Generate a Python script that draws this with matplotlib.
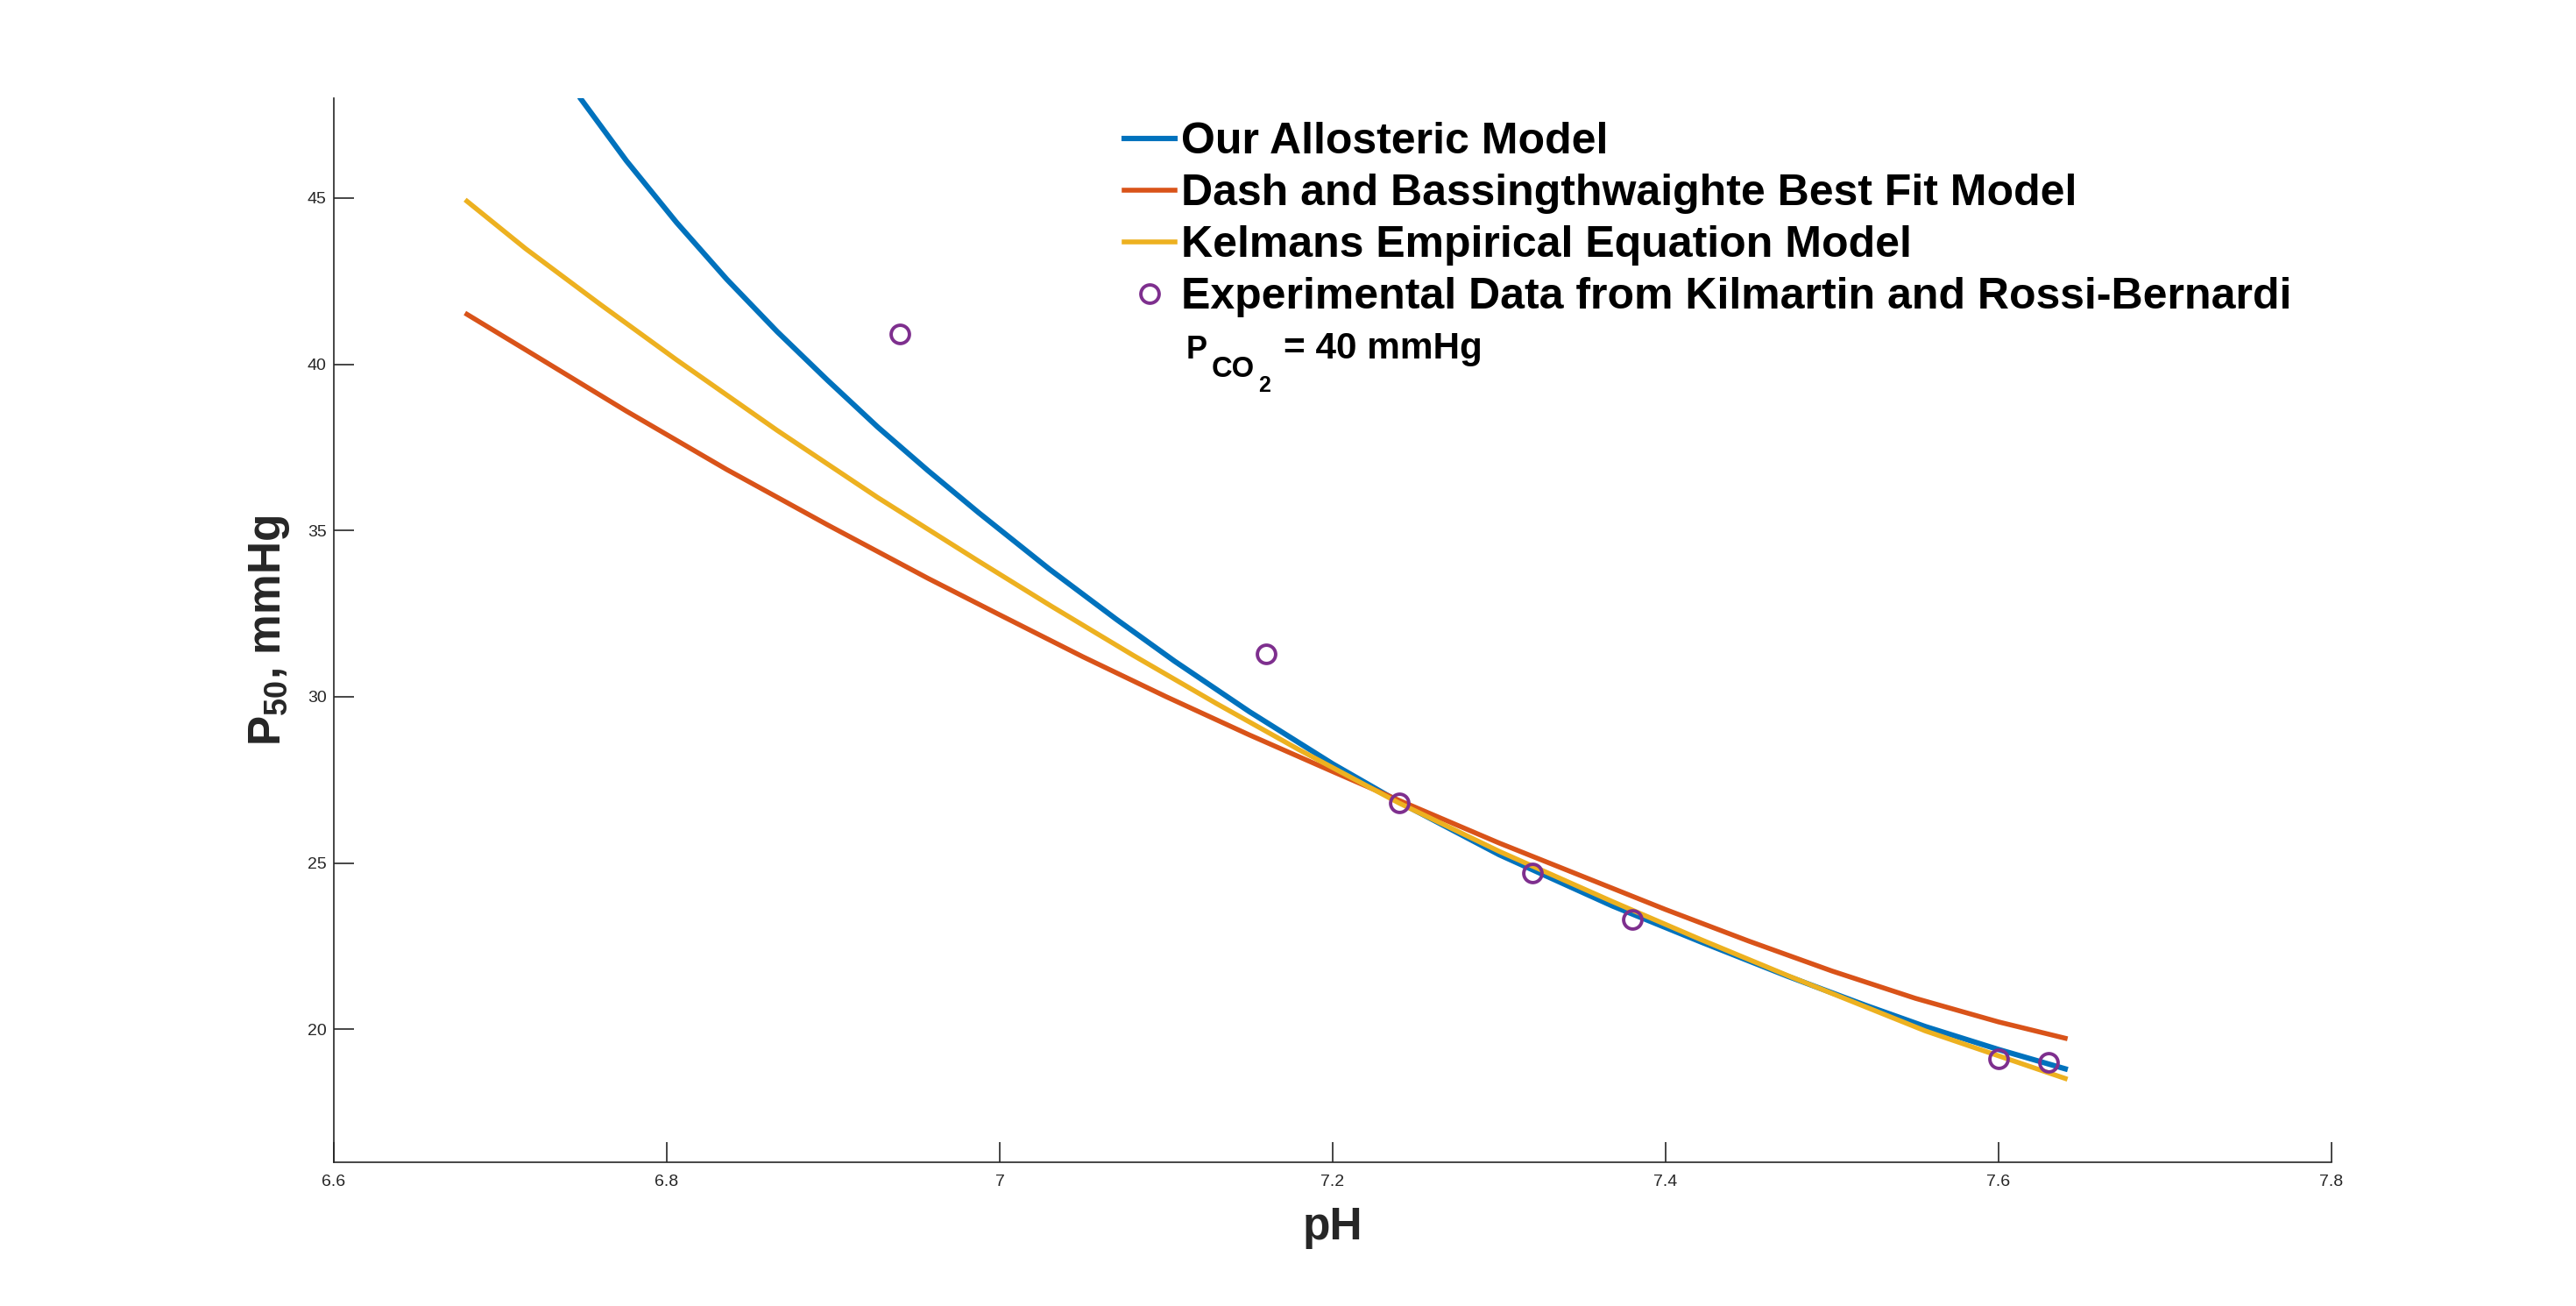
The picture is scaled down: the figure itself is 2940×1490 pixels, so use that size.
import matplotlib
matplotlib.use('Agg')
import matplotlib.pyplot as plt

plt.rcParams['font.family'] = ['Liberation Sans', 'DejaVu Sans']
plt.rcParams['mathtext.fontset'] = 'custom'
plt.rcParams['mathtext.rm'] = 'Liberation Sans:bold'
plt.rcParams['mathtext.it'] = 'Liberation Sans:bold'
plt.rcParams['mathtext.bf'] = 'Liberation Sans:bold'
plt.rcParams['mathtext.default'] = 'rm'

# values
ph_allo = [6.7485, 6.7757, 6.8059, 6.8361, 6.8663, 6.8965, 6.9267, 6.9569, 6.9872,
           7.03, 7.07, 7.105, 7.15, 7.20, 7.24, 7.30, 7.368, 7.421, 7.473, 7.52,
           7.556, 7.60, 7.64]
p50_allo = [47.97, 46.12, 44.26, 42.55, 40.98, 39.52, 38.11, 36.80, 35.54,
            33.83, 32.33, 31.07, 29.55, 27.98, 26.83, 25.25, 23.71, 22.63, 21.60, 20.72,
            20.08, 19.39, 18.81]

ph_dash = [6.68, 6.7153, 6.7757, 6.8361, 6.8965, 6.9569, 6.9993, 7.05, 7.10, 7.15,
           7.20, 7.24, 7.30, 7.35, 7.40, 7.45, 7.50, 7.55, 7.60, 7.64]
p50_dash = [41.5, 40.43, 38.59, 36.83, 35.17, 33.56, 32.48, 31.2, 30.0, 28.85,
            27.75, 26.88, 25.6, 24.6, 23.6, 22.65, 21.75, 20.93, 20.22, 19.73]

ph_kel = [6.68, 6.7153, 6.76, 6.8059, 6.8663, 6.9267, 6.9872, 7.0311, 7.08, 7.13,
          7.18, 7.24, 7.30, 7.368, 7.421, 7.473, 7.556, 7.60, 7.64]
p50_kel = [44.9, 43.47, 41.8, 40.13, 38.01, 35.99, 34.08, 32.72, 31.25, 29.8,
           28.4, 26.8, 25.35, 23.84, 22.70, 21.62, 19.95, 19.2, 18.52]

ph_exp = [6.94, 7.16, 7.24, 7.32, 7.38, 7.60, 7.63]
p50_exp = [40.9, 31.3, 26.8, 24.7, 23.3, 19.1, 19.0]

labels = ['Our Allosteric Model',
          'Dash and Bassingthwaighte Best Fit Model',
          'Kelmans Empirical Equation Model',
          'Experimental Data from Kilmartin and Rossi-Bernardi']

xticks = [6.6, 6.8, 7.0, 7.2, 7.4, 7.6, 7.8]
xticklabels = ['6.6', '6.8', '7', '7.2', '7.4', '7.6', '7.8']
yticks = [20, 25, 30, 35, 40, 45]

W, H = 2940, 1490
fig = plt.figure(figsize=(14.7, 7.45), dpi=200)
ax = fig.add_axes([381 / W, 1 - 1326 / H, (2661 - 381) / W, (1326 - 112) / H])

l1, = ax.plot(ph_allo, p50_allo, color='#0072BD', lw=2.2)
l2, = ax.plot(ph_dash, p50_dash, color='#D95319', lw=2.0)
l3, = ax.plot(ph_kel, p50_kel, color='#EDB120', lw=2.0)
l4, = ax.plot(ph_exp, p50_exp, 'o', color='#7E2F8E', mfc='none', ms=7.5, mew=1.4)

ax.set_xlim(6.6, 7.8)
ax.set_ylim(16, 48)
ax.set_xticks(xticks)
ax.set_xticklabels(xticklabels)
ax.set_yticks(yticks)

dark = '#262626'
for s in ['top', 'right']:
    ax.spines[s].set_visible(False)
for s in ['left', 'bottom']:
    ax.spines[s].set_color(dark)
    ax.spines[s].set_linewidth(0.6)
ax.tick_params(direction='in', length=8.3, width=0.6, color=dark,
               labelcolor=dark, labelsize=7)
ax.tick_params(axis='x', pad=5)
ax.tick_params(axis='y', pad=3)

ax.set_xlabel('pH', fontsize=18.5, fontweight='bold', color=dark)
ax.set_ylabel('P$_{50}$, mmHg', fontsize=18.5, fontweight='bold', color=dark)
ax.xaxis.set_label_coords(0.5, -0.041)
ax.yaxis.set_label_coords(-0.021, 0.5)

ax.legend([l1, l2, l3, l4], labels, loc='upper left',
          bbox_to_anchor=(1283 / W, 1 - 139 / H), bbox_transform=fig.transFigure,
          frameon=False, handlelength=1.15, handletextpad=0.15, labelspacing=0.26,
          borderpad=0, borderaxespad=0, numpoints=1,
          prop={'weight': 'bold', 'size': 18})

# P_CO2 = 40 mmHg note
fig.text(1354 / W, 1 - 409 / H, 'P', fontsize=13, fontweight='bold', va='baseline')
fig.text(1383 / W, 1 - 430 / H, 'CO', fontsize=11.8, fontweight='bold', va='baseline')
fig.text(1436 / W, 1 - 447 / H, '2', fontsize=9, fontweight='bold', va='baseline')
fig.text(1465 / W, 1 - 409 / H, '= 40 mmHg', fontsize=15.2, fontweight='bold', va='baseline')

fig.savefig('out.png', dpi=200)
